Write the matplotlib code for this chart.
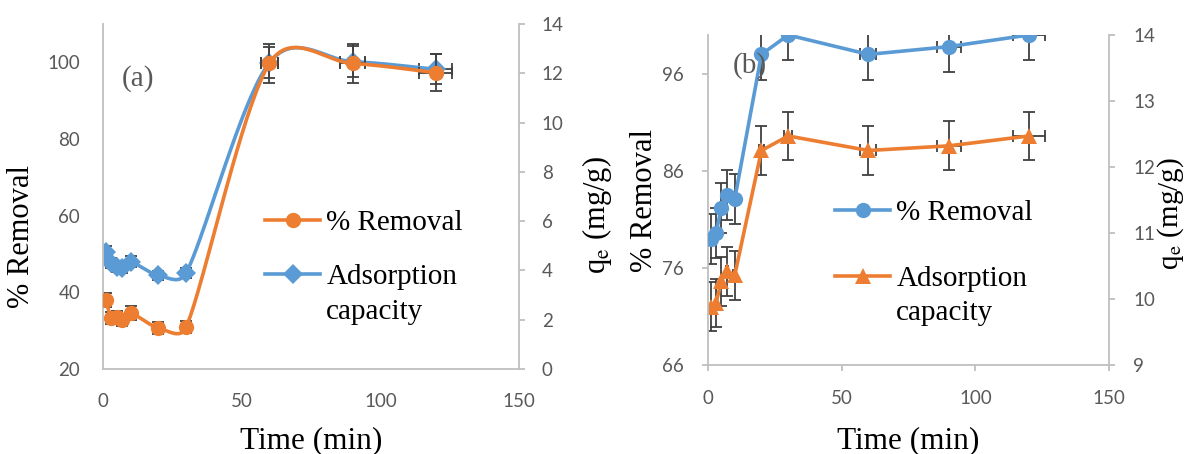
import numpy as np
import matplotlib
matplotlib.use("Agg")
import matplotlib.pyplot as plt
from matplotlib.lines import Line2D
from matplotlib.legend_handler import HandlerLine2D

plt.rcParams['mathtext.fontset'] = 'stix'

# ---- data ----
time_min = [1, 3, 5, 7, 10, 20, 30, 60, 90, 120]

# panel (a)
removal_a = [38.0, 33.3, 33.5, 32.8, 34.6, 30.7, 30.9, 99.7, 99.7, 97.3]
qe_a = [4.76, 4.3, 4.15, 4.1, 4.35, 3.8, 3.9, 12.43, 12.47, 12.16]

# panel (b)
removal_b = [79.0, 79.6, 82.2, 83.5, 83.1, 98.0, 100.0, 98.0, 98.8, 100.0]
qe_b = [9.88, 9.94, 10.27, 10.42, 10.36, 12.25, 12.47, 12.25, 12.32, 12.47]
removal_b_err = 2.6
qe_b_err = 0.37

x_ticks = [0, 50, 100, 150]
ticks_left_a = [20, 40, 60, 80, 100]
ticks_right_a = [0, 2, 4, 6, 8, 10, 12, 14]
ticks_left_b = [66, 76, 86, 96]
ticks_right_b = [9, 10, 11, 12, 13, 14]

ORANGE = '#ED7D31'
BLUE = '#5B9BD5'
GREY_TXT = '#595959'
SPINE = '#BFBFBF'
ERR = '#404040'
W, H = 1188, 454


def rect(l, t, r, b):
    return [l / W, 1 - b / H, (r - l) / W, (b - t) / H]


def excel_smooth(ax, x, y, n=40):
    # bezier smoothing in screen space, roughly like Excel's "smoothed line"
    pts = ax.transData.transform(np.column_stack([x, y]))
    P = np.vstack([pts[0], pts, pts[-1]])
    out = []
    s = np.linspace(0, 1, n)[:, None]

    def arm(v, seg):
        # keep control arms shorter than half the segment
        L = np.hypot(*v)
        lim = 0.5 * np.hypot(*seg)
        return v if L <= lim or L == 0 else v * lim / L

    for i in range(1, len(P) - 2):
        p0, p1, p2, p3 = P[i - 1], P[i], P[i + 1], P[i + 2]
        c1 = p1 + arm((p2 - p0) / 6, p2 - p1)
        c2 = p2 - arm((p3 - p1) / 6, p2 - p1)
        out.append((1 - s) ** 3 * p1 + 3 * (1 - s) ** 2 * s * c1 + 3 * (1 - s) * s ** 2 * c2 + s ** 3 * p2)
    c = ax.transData.inverted().transform(np.vstack(out))
    return c[:, 0], c[:, 1]


class FirstLineHandler(HandlerLine2D):
    # put the legend line next to the first line of a two-line label
    def create_artists(self, legend, orig_handle, xdescent, ydescent, width, height, fontsize, trans):
        arts = super().create_artists(legend, orig_handle, xdescent, ydescent, width, height, fontsize, trans)
        for a in arts:
            a.set_ydata(np.asarray(a.get_ydata()) + 0.68 * fontsize)
        return arts


def style_axes(ax, ax2, left_ticks, bottom_ticks, pads):
    for a in (ax, ax2):
        a.spines['top'].set_visible(False)
        for sp in ('left', 'right', 'bottom'):
            a.spines[sp].set_color(SPINE)
            a.spines[sp].set_linewidth(1.3)
    ax.spines['right'].set_visible(False)
    ax2.spines['left'].set_visible(False)
    ax2.spines['bottom'].set_visible(False)
    tick_font = dict(labelsize=13.5, labelcolor=GREY_TXT, color=SPINE, width=1.3)
    ax.tick_params(axis='y', length=4.3 if left_ticks else 0, pad=pads[0], **tick_font)
    ax.tick_params(axis='x', length=4.3 if bottom_ticks else 0, pad=pads[1], **tick_font)
    ax2.tick_params(axis='y', length=4.3, pad=pads[2], **tick_font)
    for a in (ax, ax2):
        for lab in a.get_xticklabels() + a.get_yticklabels():
            lab.set_fontfamily('Lato')


def add_legend(ax, handles, labels, special, anchor, spacing):
    leg = ax.legend(handles, labels, handler_map={special: FirstLineHandler()},
                    loc='upper left', bbox_to_anchor=(anchor[0] / W, 1 - anchor[1] / H),
                    bbox_transform=fig.transFigure, frameon=False, borderpad=0,
                    borderaxespad=0, handlelength=1.9, handletextpad=0.2,
                    labelspacing=spacing, prop=dict(family=serif, size=21))
    for txt in leg.get_texts():
        txt.set_linespacing(1.42)
    leg.set_zorder(10)
    return leg


fig = plt.figure(figsize=(W / 100, H / 100), dpi=100)

serif = 'Liberation Serif'
marker_kw = dict(markeredgewidth=0)
err_kw = dict(fmt='none', ecolor=ERR, elinewidth=1.3, capsize=4.3, capthick=1.3, zorder=2)
LW = 2.6
MS_O, MS_D, MS_T = 11, 10, 12

# ---------- panel (a) ----------
ax_a = fig.add_axes(rect(103, 24, 519, 369))
ax_a2 = ax_a.twinx()
ax_a.set_xlim(0, 150)
ax_a.set_ylim(20, 110)
ax_a2.set_ylim(0, 14)
ax_a.set_xticks(x_ticks)
ax_a.set_yticks(ticks_left_a)
ax_a2.set_yticks(ticks_right_a)
ax_a.set_zorder(ax_a2.get_zorder() + 1)
ax_a.patch.set_visible(False)

t = np.array(time_min, dtype=float)
ra = np.array(removal_a)
qa = np.array(qe_a)
ax_a.errorbar(t, ra, yerr=0.05 * ra, xerr=0.05 * t, **err_kw)
ax_a2.errorbar(t, qa, yerr=0.05 * qa, xerr=0.05 * t, **err_kw)
sx, sy = excel_smooth(ax_a2, t, qa)
ax_a2.plot(sx, sy, color=BLUE, lw=LW, zorder=3)
ax_a2.plot(t, qa, 'D', color=BLUE, ms=MS_D, zorder=4, **marker_kw)
sx, sy = excel_smooth(ax_a, t, ra)
ax_a.plot(sx, sy, color=ORANGE, lw=LW, zorder=3)
ax_a.plot(t, ra, 'o', color=ORANGE, ms=MS_O, zorder=4, **marker_kw)

style_axes(ax_a, ax_a2, False, False, (16.5, 17, 12))
fig.text(138 / W, 1 - 79 / H, '(a)', fontsize=21, family=serif, color=GREY_TXT,
         ha='center', va='center')

h1 = Line2D([], [], color=ORANGE, lw=LW, marker='o', ms=MS_O, markeredgewidth=0)
h2 = Line2D([], [], color=BLUE, lw=LW, marker='D', ms=MS_D, markeredgewidth=0)
add_legend(ax_a, [h1, h2], ['% Removal', 'Adsorption\ncapacity'], h2, (265, 210), 0.95)

fig.text(22 / W, 1 - 236 / H, '% Removal', rotation=90, ha='center', va='center',
         family=serif, fontsize=22)
fig.text(597 / W, 1 - 215 / H, r'q$_{\mathrm{e}}$ (mg/g)', rotation=90, ha='center',
         va='center', family=serif, fontsize=22)
fig.text(311 / W, 6 / H, 'Time (min)', ha='center', va='baseline', family=serif, fontsize=22.5)

# ---------- panel (b) ----------
ax_b = fig.add_axes(rect(708, 35, 1109, 365))
ax_b2 = ax_b.twinx()
ax_b.set_xlim(0, 150)
ax_b.set_ylim(66, 100)
ax_b2.set_ylim(9, 14)
ax_b.set_xticks(x_ticks)
ax_b.set_yticks(ticks_left_b)
ax_b2.set_yticks(ticks_right_b)
ax_b.set_zorder(ax_b2.get_zorder() + 1)
ax_b.patch.set_visible(False)

rb = np.array(removal_b)
qb = np.array(qe_b)
ax_b.errorbar(t, rb, yerr=removal_b_err, xerr=0.05 * t, **err_kw)
ax_b2.errorbar(t, qb, yerr=qe_b_err, xerr=0.05 * t, **err_kw)
ax_b2.plot(t, qb, '-^', color=ORANGE, lw=LW, ms=MS_T, zorder=4, **marker_kw)
ax_b.plot(t, rb, '-o', color=BLUE, lw=LW, ms=MS_O, zorder=4, **marker_kw)

style_axes(ax_b, ax_b2, True, True, (13, 13.5, 13))
fig.text(750 / W, 1 - 66 / H, '(b)', fontsize=21, family=serif, color=GREY_TXT,
         ha='center', va='center')

h3 = Line2D([], [], color=BLUE, lw=LW, marker='o', ms=MS_O, markeredgewidth=0)
h4 = Line2D([], [], color=ORANGE, lw=LW, marker='^', ms=MS_T, markeredgewidth=0)
add_legend(ax_b, [h3, h4], ['% Removal', 'Adsorption\ncapacity'], h4, (835, 200), 1.35)

fig.text(645 / W, 1 - 200 / H, '% Removal', rotation=90, ha='center', va='center',
         family=serif, fontsize=22)
fig.text(1171 / W, 1 - 214 / H, r'q$_{\mathrm{e}}$ (mg/g)', rotation=90, ha='center',
         va='center', family=serif, fontsize=21)
fig.text(908 / W, 6 / H, 'Time (min)', ha='center', va='baseline', family=serif, fontsize=22.5)

fig.savefig('out.png', dpi=100)
